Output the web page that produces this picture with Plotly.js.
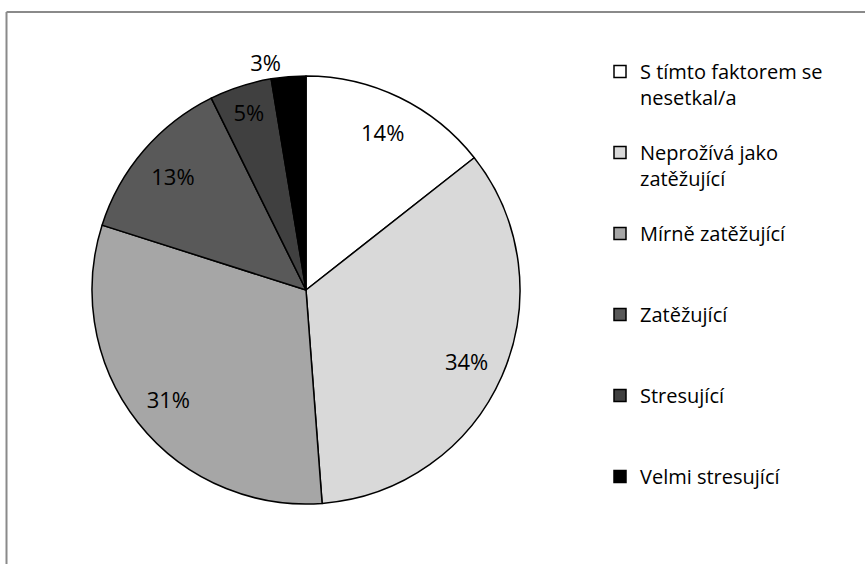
<!DOCTYPE html>
<html>
<head>
<meta charset="utf-8">
<script src="https://cdn.plot.ly/plotly-3.0.1.min.js"></script>
<style>html,body{margin:0;padding:0;background:#fff;}#chart{width:865px;height:564px;}</style>
</head>
<body>
<div id="chart"></div>
<script>
var categories = [
  "S tímto faktorem se<br>nesetkal/a<br> ",
  "Neprožívá jako<br>zatěžující<br> ",
  "Mírně zatěžující<br> <br> ",
  "Zatěžující<br> <br> ",
  "Stresující<br> <br> ",
  "Velmi stresující<br> <br> "
];
var values = [14.4, 34.4, 31.1, 12.8, 4.7, 2.6];
var sliceColors = ["#ffffff", "#d9d9d9", "#a6a6a6", "#595959", "#404040", "#000000"];
// label placement: inside (drawn on the label ring) or outside the pie
var labelInside = [true, true, true, true, true, false];

var W = 865, H = 564;
var FONT = "'Open Sans', Lato, sans-serif";
var dom = { x: [92 / W, 520 / W], y: [(H - 504) / H, (H - 76) / H] };

var pieTrace = {
  type: "pie",
  labels: categories,
  values: values,
  sort: false,
  direction: "clockwise",
  rotation: 0,
  marker: { colors: sliceColors, line: { color: "#000000", width: 1.5 } },
  texttemplate: "%{percent:.0%}",
  textposition: labelInside.map(function (v) { return v ? "none" : "outside"; }),
  outsidetextfont: { family: FONT, size: 22, color: "#000000" },
  textfont: { family: FONT, size: 22, color: "#000000" },
  hoverinfo: "label+percent",
  domain: dom,
  automargin: false
};

var labelRing = {
  type: "pie",
  labels: categories,
  values: values,
  sort: false,
  direction: "clockwise",
  rotation: 0,
  hole: 0.64,
  showlegend: false,
  marker: { colors: sliceColors.map(function () { return "rgba(0,0,0,0)"; }), line: { width: 0 } },
  texttemplate: "%{percent:.0%}",
  textposition: labelInside.map(function (v) { return v ? "inside" : "none"; }),
  insidetextorientation: "horizontal",
  insidetextfont: { family: FONT, size: 22, color: "#000000" },
  textfont: { family: FONT, size: 22, color: "#000000" },
  hoverinfo: "skip",
  domain: dom,
  automargin: false
};

var layout = {
  width: W,
  height: H,
  margin: { l: 0, r: 0, t: 0, b: 0 },
  paper_bgcolor: "#ffffff",
  showlegend: true,
  legend: {
    x: 600 / W,
    xanchor: "left",
    y: 1 - 52 / H,
    yanchor: "top",
    valign: "top",
    font: { family: FONT, size: 20, color: "#000000" },
    bgcolor: "rgba(0,0,0,0)",
    borderwidth: 0
  },
  shapes: [
    { type: "line", xref: "paper", yref: "paper", x0: 6.5 / W, x1: 1, y0: 1 - 12 / H, y1: 1 - 12 / H, line: { color: "#8a8a8a", width: 2 } },
    { type: "line", xref: "paper", yref: "paper", x0: 6.5 / W, x1: 6.5 / W, y0: 1 - 12 / H, y1: 0, line: { color: "#8a8a8a", width: 2 } }
  ]
};

Plotly.newPlot("chart", [pieTrace, labelRing], layout, { displayModeBar: false, staticPlot: true });
</script>
</body>
</html>
